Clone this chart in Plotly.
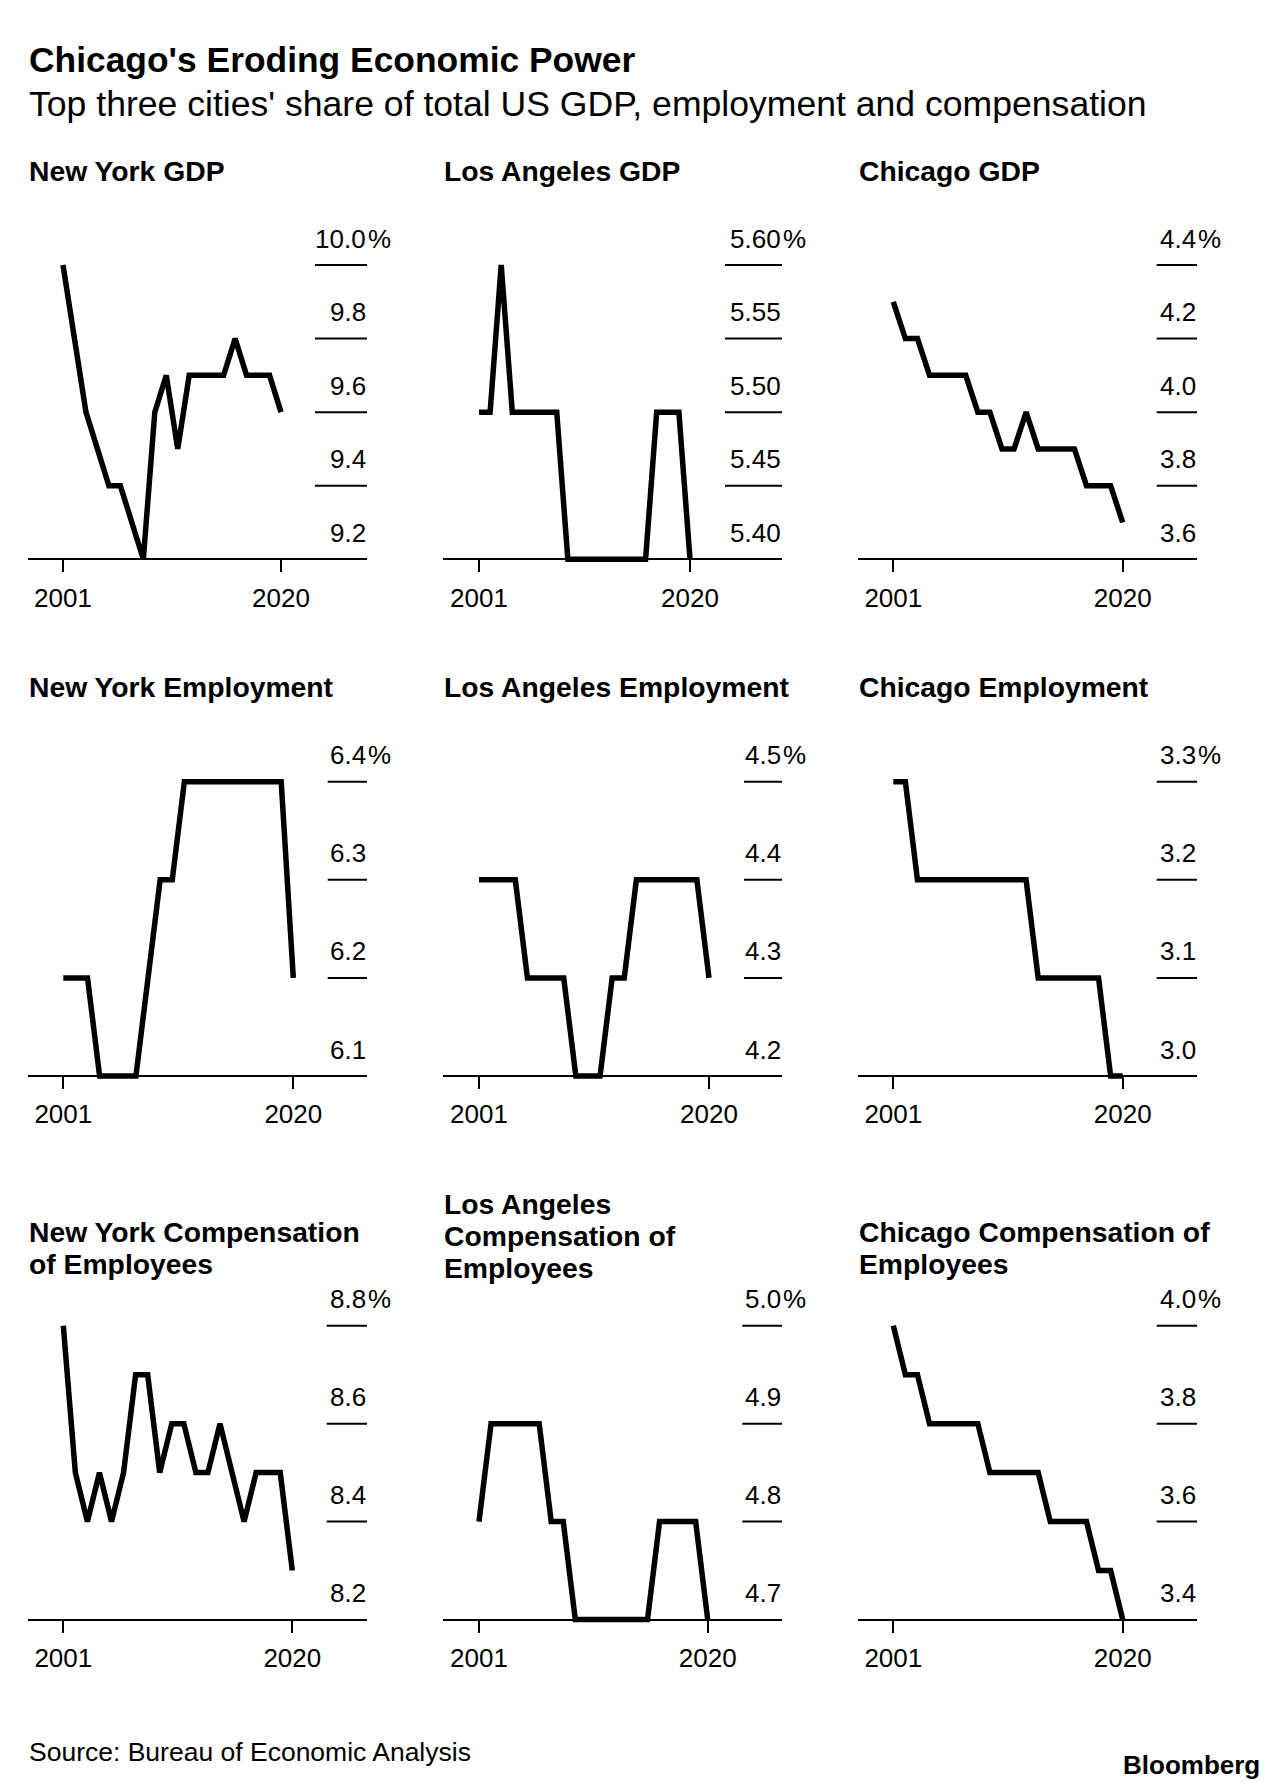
import plotly.graph_objects as go

W, H = 1287, 1792
FONT = "Liberation Sans"

# ---------------- data ----------------
years = list(range(2001, 2021))

ny_gdp   = [10.0, 9.8, 9.6, 9.5, 9.4, 9.4, 9.3, 9.2, 9.6, 9.7, 9.5, 9.7, 9.7, 9.7, 9.7, 9.8, 9.7, 9.7, 9.7, 9.6]
la_gdp   = [5.5, 5.5, 5.6, 5.5, 5.5, 5.5, 5.5, 5.5, 5.4, 5.4, 5.4, 5.4, 5.4, 5.4, 5.4, 5.4, 5.5, 5.5, 5.5, 5.4]
chi_gdp  = [4.3, 4.2, 4.2, 4.1, 4.1, 4.1, 4.1, 4.0, 4.0, 3.9, 3.9, 4.0, 3.9, 3.9, 3.9, 3.9, 3.8, 3.8, 3.8, 3.7]
ny_emp   = [6.2, 6.2, 6.2, 6.1, 6.1, 6.1, 6.1, 6.2, 6.3, 6.3, 6.4, 6.4, 6.4, 6.4, 6.4, 6.4, 6.4, 6.4, 6.4, 6.2]
la_emp   = [4.4, 4.4, 4.4, 4.4, 4.3, 4.3, 4.3, 4.3, 4.2, 4.2, 4.2, 4.3, 4.3, 4.4, 4.4, 4.4, 4.4, 4.4, 4.4, 4.3]
chi_emp  = [3.3, 3.3, 3.2, 3.2, 3.2, 3.2, 3.2, 3.2, 3.2, 3.2, 3.2, 3.2, 3.1, 3.1, 3.1, 3.1, 3.1, 3.1, 3.0, 3.0]
ny_comp  = [8.8, 8.5, 8.4, 8.5, 8.4, 8.5, 8.7, 8.7, 8.5, 8.6, 8.6, 8.5, 8.5, 8.6, 8.5, 8.4, 8.5, 8.5, 8.5, 8.3]
la_comp  = [4.8, 4.9, 4.9, 4.9, 4.9, 4.9, 4.8, 4.8, 4.7, 4.7, 4.7, 4.7, 4.7, 4.7, 4.7, 4.8, 4.8, 4.8, 4.8, 4.7]
chi_comp = [4.0, 3.9, 3.9, 3.8, 3.8, 3.8, 3.8, 3.8, 3.7, 3.7, 3.7, 3.7, 3.7, 3.6, 3.6, 3.6, 3.6, 3.5, 3.5, 3.4]

ny_gdp_ticks   = [9.2, 9.4, 9.6, 9.8, 10.0]
la_gdp_ticks   = [5.40, 5.45, 5.50, 5.55, 5.60]
chi_gdp_ticks  = [3.6, 3.8, 4.0, 4.2, 4.4]
ny_emp_ticks   = [6.1, 6.2, 6.3, 6.4]
la_emp_ticks   = [4.2, 4.3, 4.4, 4.5]
chi_emp_ticks  = [3.0, 3.1, 3.2, 3.3]
ny_comp_ticks  = [8.2, 8.4, 8.6, 8.8]
la_comp_ticks  = [4.7, 4.8, 4.9, 5.0]
chi_comp_ticks = [3.4, 3.6, 3.8, 4.0]

ny_gdp_labels   = ["9.2", "9.4", "9.6", "9.8", "10.0"]
la_gdp_labels   = ["5.40", "5.45", "5.50", "5.55", "5.60"]
chi_gdp_labels  = ["3.6", "3.8", "4.0", "4.2", "4.4"]
ny_emp_labels   = ["6.1", "6.2", "6.3", "6.4"]
la_emp_labels   = ["4.2", "4.3", "4.4", "4.5"]
chi_emp_labels  = ["3.0", "3.1", "3.2", "3.3"]
ny_comp_labels  = ["8.2", "8.4", "8.6", "8.8"]
la_comp_labels  = ["4.7", "4.8", "4.9", "5.0"]
chi_comp_labels = ["3.4", "3.6", "3.8", "4.0"]

x_tick_years = [2001, 2020]

panel_titles = [
    ["New York GDP"], ["Los Angeles GDP"], ["Chicago GDP"],
    ["New York Employment"], ["Los Angeles Employment"], ["Chicago Employment"],
    ["New York Compensation", "of Employees"],
    ["Los Angeles", "Compensation of", "Employees"],
    ["Chicago Compensation of", "Employees"],
]
title_text = "Chicago's Eroding Economic Power"
subtitle_text = "Top three cities' share of total US GDP, employment and compensation"
source_text = "Source: Bureau of Economic Analysis"

series = [ny_gdp, la_gdp, chi_gdp, ny_emp, la_emp, chi_emp, ny_comp, la_comp, chi_comp]
ticks = [ny_gdp_ticks, la_gdp_ticks, chi_gdp_ticks, ny_emp_ticks, la_emp_ticks,
         chi_emp_ticks, ny_comp_ticks, la_comp_ticks, chi_comp_ticks]
labels = [ny_gdp_labels, la_gdp_labels, chi_gdp_labels, ny_emp_labels, la_emp_labels,
          chi_emp_labels, ny_comp_labels, la_comp_labels, chi_comp_labels]

# ---------------- layout geometry (pixels) ----------------
# per panel: axis left, axis right, x of 2001 tick, x of 2020 tick, gridline start
cols = [
    (28, 367, 63.0, 281.0, 315.0), (443, 782, 479.0, 690.0, 725.0), (858, 1197, 893.3, 1122.7, 1156.7),
    (28, 367, 63.3, 293.3, 327.7), (443, 782, 479.0, 709.0, 744.0), (858, 1197, 893.3, 1122.7, 1156.7),
    (28, 367, 63.3, 292.3, 326.7), (443, 782, 479.0, 707.7, 742.3), (858, 1197, 893.3, 1122.7, 1156.7),
]
# per row: baseline y, top gridline y
rows = [(559.3, 265.0), (1076.0, 781.7), (1619.5, 1325.7)]
title_lines_y = [
    [170.5], [170.5], [170.5],
    [687.0], [687.0], [687.0],
    [1232.0, 1264.0], [1203.5, 1235.5, 1267.5], [1232.0, 1264.0],
]
PAD = 6

fig = go.Figure()
shapes = []
annotations = []
BLACK = "#000000"

for i in range(9):
    n = i + 1
    sfx = "" if n == 1 else str(n)
    left, right, t0, t1, gs = cols[i]
    base, top = rows[i // 3]
    tv = ticks[i]
    vmin, vmax = tv[0], tv[-1]
    ppy = (t1 - t0) / 19.0
    xr0 = 2001 - (t0 - left) / ppy
    xr1 = 2020 + (right - t1) / ppy
    ppu = (base - top) / (vmax - vmin)

    fig.add_trace(go.Scatter(
        x=years, y=series[i], mode="lines",
        line=dict(color=BLACK, width=5.5),
        xaxis="x" + sfx, yaxis="y" + sfx,
        hoverinfo="skip", showlegend=False,
    ))

    fig.update_layout(**{
        "xaxis" + sfx: dict(
            domain=[left / W, right / W], range=[xr0, xr1],
            anchor="free", position=1 - base / H,
            showline=True, linecolor=BLACK, linewidth=2,
            ticks="outside", ticklen=12, tickwidth=2, tickcolor=BLACK,
            tickvals=x_tick_years, ticktext=[str(y) for y in x_tick_years],
            tickfont=dict(family=FONT, size=26, color=BLACK),
            ticklabelstandoff=3,
            showgrid=False, zeroline=False, fixedrange=True,
        ),
        "yaxis" + sfx: dict(
            domain=[1 - (base + PAD) / H, 1 - (top - PAD) / H],
            range=[vmin - PAD / ppu, vmax + PAD / ppu],
            anchor="x" + sfx, visible=False, fixedrange=True,
        ),
    })

    gfrac = (gs - left) / (right - left)
    for v in tv[1:]:
        shapes.append(dict(
            type="line", xref="x" + sfx + " domain", yref="y" + sfx,
            x0=gfrac, x1=1, y0=v, y1=v,
            line=dict(color=BLACK, width=2),
        ))
    for j, (v, lab) in enumerate(zip(tv, labels[i])):
        annotations.append(dict(
            xref="x" + sfx + " domain", yref="y" + sfx, x=1, y=v,
            xanchor="right", yanchor="middle", yshift=26.5, showarrow=False,
            text=lab, font=dict(family=FONT, size=26, color=BLACK),
            borderpad=0,
        ))
        if j == len(tv) - 1:
            annotations.append(dict(
                xref="x" + sfx + " domain", yref="y" + sfx, x=1, y=v,
                xanchor="left", yanchor="middle", yshift=26.5, showarrow=False,
                text="%", font=dict(family=FONT, size=26, color=BLACK),
                borderpad=0,
            ))

    for line_txt, ly in zip(panel_titles[i], title_lines_y[i]):
        annotations.append(dict(
            xref="paper", yref="paper", x=left / W, y=1 - ly / H,
            xanchor="left", yanchor="middle", showarrow=False,
            text="<b>" + line_txt + "</b>",
            font=dict(family=FONT, size=28.3, color=BLACK), borderpad=0,
        ))

annotations += [
    dict(xref="paper", yref="paper", x=28 / W, y=1 - 59.5 / H, xanchor="left", yanchor="middle",
         showarrow=False, text="<b>" + title_text + "</b>",
         font=dict(family=FONT, size=35.4, color=BLACK), borderpad=0),
    dict(xref="paper", yref="paper", x=28 / W, y=1 - 104 / H, xanchor="left", yanchor="middle",
         showarrow=False, text=subtitle_text,
         font=dict(family=FONT, size=35.6, color=BLACK), borderpad=0),
    dict(xref="paper", yref="paper", x=28 / W, y=1 - 1752 / H, xanchor="left", yanchor="middle",
         showarrow=False, text=source_text,
         font=dict(family=FONT, size=26.5, color=BLACK), borderpad=0),
    dict(xref="paper", yref="paper", x=1261 / W, y=1 - 1765 / H, xanchor="right", yanchor="middle",
         showarrow=False, text="<b>Bloomberg</b>",
         font=dict(family=FONT, size=26, color=BLACK), borderpad=0),
]

fig.update_layout(
    width=W, height=H,
    margin=dict(l=0, r=0, t=0, b=0),
    paper_bgcolor="white", plot_bgcolor="white",
    showlegend=False,
    shapes=shapes, annotations=annotations,
    font=dict(family=FONT, color=BLACK),
)

fig.write_html("out.html", config={"displayModeBar": False},
               post_script="document.body.style.margin='0';")
